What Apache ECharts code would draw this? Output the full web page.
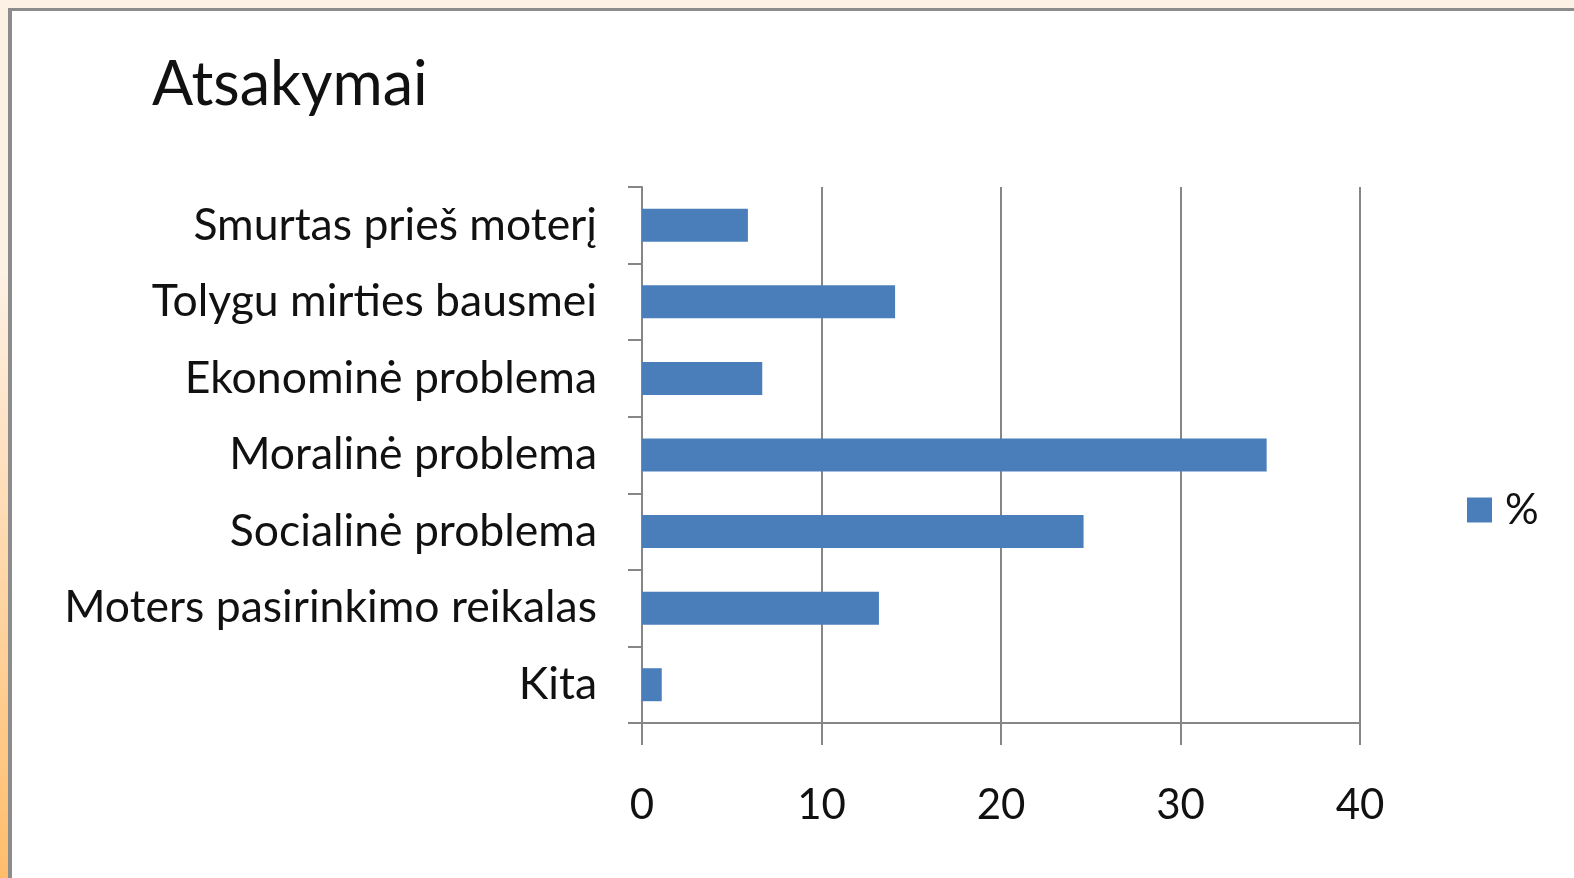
<!DOCTYPE html>
<html>
<head>
<meta charset="utf-8">
<script src="https://cdn.jsdelivr.net/npm/echarts@6/dist/echarts.min.js"></script>
<style>
html,body{margin:0;padding:0;width:1574px;height:878px;overflow:hidden;}
body{background:linear-gradient(to bottom,#fdf1e6 0%,#fdf1e6 30%,#ffbd6b 100%);}
#top{position:absolute;left:0;top:0;width:1574px;height:8px;background:#fdf1e6;}
#frame{position:absolute;left:8px;top:8px;right:0;bottom:0;background:#fff;border-left:4px solid #8c8c8c;border-top:3px solid #8c8c8c;}
#chart{position:absolute;left:0;top:0;width:1574px;height:878px;}
</style>
</head>
<body>
<div id="top"></div>
<div id="frame"></div>
<div id="chart"></div>
<script>
const titleText = 'Atsakymai';
const categories = ['Smurtas prieš moterį','Tolygu mirties bausmei','Ekonominė problema','Moralinė problema','Socialinė problema','Moters pasirinkimo reikalas','Kita'];
const seriesName = '%';
const values = [5.9, 14.1, 6.7, 34.8, 24.6, 13.2, 1.1];
const xTicks = [0, 10, 20, 30, 40];

const FONT = 'Lato';
const chart = echarts.init(document.getElementById('chart'), null, {renderer:'canvas'});
chart.setOption({
  backgroundColor: 'transparent',
  animation: false,
  title: {
    text: titleText, left: 147, top: 50,
    textStyle: {fontFamily: FONT, fontSize: 61, fontWeight: 'normal', color: '#111'}
  },
  legend: {
    data: [seriesName], left: 1462, top: 484, orient: 'vertical',
    itemWidth: 25, itemHeight: 25, itemGap: 10, icon: 'rect',
    textStyle: {fontFamily: FONT, fontSize: 42, color: '#111', padding: [0, 0, 0, 8]}
  },
  grid: {left: 642, right: 214, top: 187, bottom: 155, containLabel: false},
  xAxis: {
    type: 'value', min: xTicks[0], max: xTicks[xTicks.length-1], interval: 10,
    axisLine: {show: true, lineStyle: {color: '#868686', width: 2}},
    axisTick: {show: true, length: 22, lineStyle: {color: '#868686', width: 2}},
    splitLine: {show: true, lineStyle: {color: '#868686', width: 2}},
    axisLabel: {margin: 61, fontFamily: FONT, fontSize: 42, color: '#111'}
  },
  yAxis: {
    type: 'category', data: categories, inverse: true,
    axisLine: {show: true, lineStyle: {color: '#868686', width: 2}},
    axisTick: {show: true, length: 14, lineStyle: {color: '#868686', width: 2}},
    axisLabel: {margin: 45, fontFamily: FONT, fontSize: 44.5, color: '#111'}
  },
  series: [{
    name: seriesName, type: 'bar', data: values, barWidth: 33,
    itemStyle: {color: '#4a7ebb'}
  }]
});
</script>
</body>
</html>
